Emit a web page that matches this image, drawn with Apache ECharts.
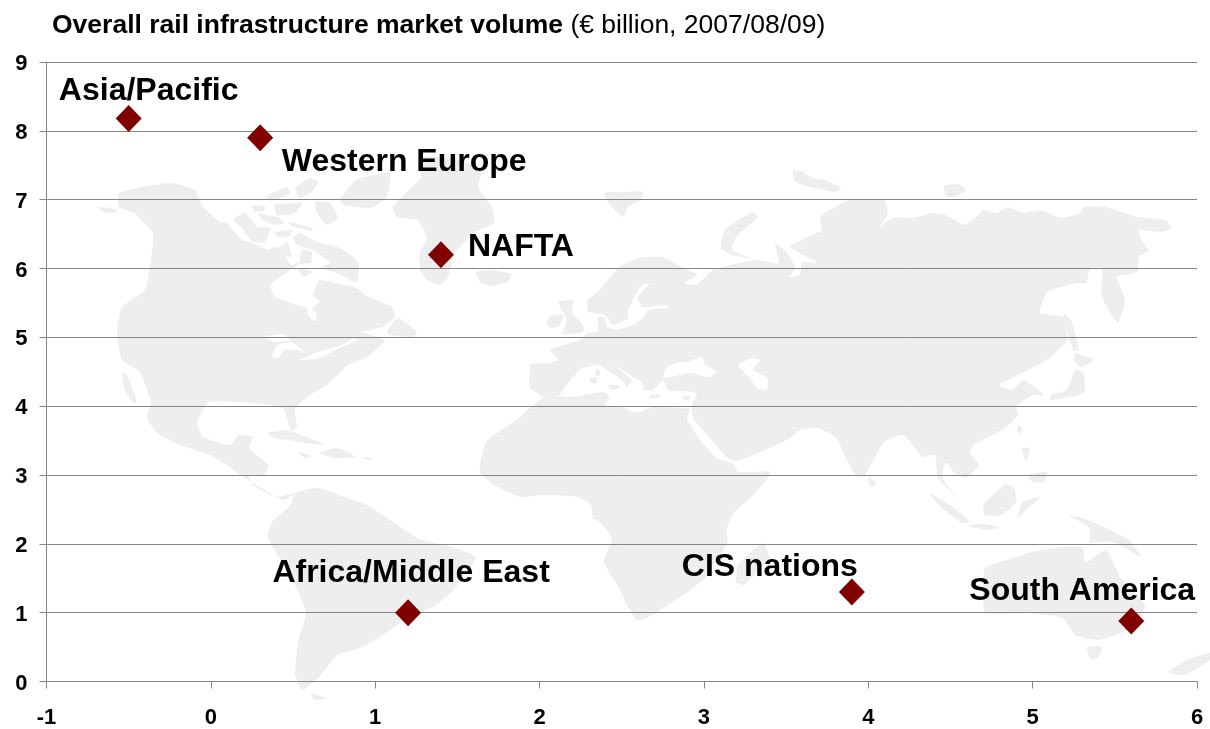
<!DOCTYPE html>
<html><head><meta charset="utf-8">
<style>html,body{margin:0;padding:0;background:#fff}#c{width:1210px;height:729px}</style>
<script src="https://cdn.jsdelivr.net/npm/echarts@6/dist/echarts.min.js"></script>
</head><body><div id="c"></div>
<script>
const regions = ['Asia/Pacific','Western Europe','NAFTA','Africa/Middle East','CIS nations','South America'];
const xValues = [-0.5,0.3,1.4,1.2,3.9,5.6];
const yValues = [8.18,7.9,6.2,1.0,1.3,0.88];
const labelOffsets = [[20,-27],[144,24],[80,-8],[3,-39],[-82,-25],[-49,-30]];
const titleBold = 'Overall rail infrastructure market volume';
const titleRest = ' (€ billion, 2007/08/09)';

// Decorative background world map (pixel outlines of the backdrop picture)
const land = [
 // North America
 [119,193,153,185,172,183,195,190,203,207,220,222,227,223,242,240,253,243,268,250,278,247,292,265,310,257,312,262,298,265,287,272,270,285,275,297,297,305,307,308,308,315,315,322,317,315,312,308,320,302,313,295,320,280,343,285,357,288,365,295,392,307,395,317,383,327,370,330,360,332,385,340,367,357,348,365,327,385,310,395,295,408,297,428,291,430,283,408,253,403,209,402,197,422,203,437,230,445,239,435,253,437,249,448,268,465,264,475,249,475,253,485,276,497,295,493,283,500,245,478,230,467,210,455,180,445,157,433,147,418,151,402,140,372,122,360,117,333,122,307,145,290,151,260,153,233,134,213,119,207],
 [98,207,112,208,118,212,105,213],
 [122,372,127,375,137,402,133,403,125,390],
 [387,332,398,318,417,332,413,337,390,335],
 // Arctic Canada
 [233,220,245,213,257,227,270,228,265,242,253,242,242,228],
 [252,206,265,206,265,210,255,212],
 [258,214,277,217,285,223,275,225,263,220],
 [275,205,302,203,295,213,277,215],
 [288,222,313,228,312,231,292,226],
 [275,232,293,230,288,237,277,237],
 [270,248,280,247,287,242,292,257,277,253],
 [293,238,300,233,317,242,340,248,358,262,357,282,337,273,320,268,330,263,313,250,297,245],
 [302,250,312,252,310,263,300,263],
 [298,268,313,272,303,277],
 [315,202,330,203,338,218,327,225,317,213],
 [340,200,356,180,390,173,387,197,371,208,344,205],
 [264,197,287,187,290,193,275,200],
 [295,188,310,178,318,182,312,192,300,198],
 // Greenland
 [393,207,406,193,421,177,421,157,459,160,482,170,478,187,492,207,494,223,474,233,455,253,448,277,440,285,427,280,420,270,420,253,427,237,417,220,397,217],
 // Iceland, British Isles
 [476,272,490,270,511,274,508,282,490,286,480,282],
 [546,323,552,315,563,315,560,325,552,328],
 [558,302,573,300,572,313,583,325,583,332,562,334,567,320,562,310],
 // Eurasia
 [530,364,550,363,558,360,550,350,580,340,587,333,598,332,598,318,605,317,607,327,617,330,633,325,643,318,648,310,670,308,667,305,642,307,638,297,650,283,640,287,628,310,628,318,613,325,605,315,588,312,588,300,600,290,619,267,639,258,662,257,682,267,697,275,684,283,697,285,713,270,756,260,779,263,775,243,787,253,795,267,790,277,800,275,802,262,818,263,790,247,806,238,822,230,820,217,830,210,849,200,884,200,888,213,880,227,892,218,915,218,931,213,946,215,964,225,977,217,983,210,997,213,1008,207,1024,213,1040,210,1061,218,1080,213,1084,207,1106,207,1137,217,1164,220,1172,228,1160,232,1139,230,1141,240,1149,250,1139,257,1137,272,1117,277,1125,300,1118,323,1102,297,1102,268,1090,270,1086,283,1077,283,1047,292,1040,313,1063,317,1067,340,1047,360,1028,370,1008,380,999,385,1012,390,1024,380,1044,395,1032,395,1016,407,1018,415,1005,428,974,445,970,453,979,465,966,478,954,472,946,462,942,478,958,498,938,478,935,455,923,457,903,435,884,442,865,475,857,477,843,452,837,438,818,428,800,430,787,440,738,461,728,458,693,418,692,405,697,393,668,390,663,380,653,390,648,390,643,390,642,382,633,377,612,363,632,380,630,383,627,387,622,380,607,370,600,365,582,368,572,378,565,387,557,398,545,397,530,388,530,367],
 // Arctic islands
 [604,193,625,192,643,192,640,200,628,207,623,217,610,205],
 [725,230,752,212,758,217,736,237,732,250,750,258,732,255,721,248],
 [793,170,803,172,812,178,825,180,841,188,835,192,815,188,795,182],
 [944,186,958,184,966,190,955,197,946,196],
 // Mediterranean islands
 [595,370,600,370,599,376,595,375],[590,378,597,378,596,383,591,383],[609,385,620,385,618,389,610,389],[650,395,660,395,659,398,651,398],[683,396,690,396,689,400,684,400],
 // Africa
 [486,442,520,417,543,398,573,397,603,392,610,397,605,405,622,407,637,413,653,407,690,409,687,418,700,440,717,458,734,464,738,472,771,472,756,492,732,515,726,532,728,542,705,578,690,590,660,610,647,618,637,620,627,605,619,588,604,562,612,538,600,522,593,518,591,505,578,497,543,495,520,497,494,485,480,473,480,465],
 [763,543,769,558,744,585,736,582,738,565],
 // South America
 [295,493,318,488,344,497,367,505,402,528,421,540,452,547,476,557,467,572,452,592,436,605,402,622,375,640,360,648,337,655,321,675,306,688,302,690,295,675,298,642,306,612,290,575,268,538,272,522,291,505],
 [310,693,327,698,315,700],
 // Caribbean
 [268,433,287,430,325,445,306,443,275,438],
 [320,453,337,448,356,457,333,458],
 [298,452,312,456,305,458],
 [360,457,372,458,370,460],
 // Australia & islands
 [985,568,1016,557,1032,552,1063,547,1082,547,1086,562,1106,550,1121,578,1145,605,1133,628,1098,640,1075,635,1063,618,1028,613,985,613,983,592],
 [1087,647,1102,647,1098,658,1090,658],
 [1168,672,1191,658,1210,653,1210,660,1184,675],
 [1069,515,1082,518,1106,528,1129,540,1141,557,1113,542,1090,542,1090,528],
 [929,493,950,505,970,522,962,523,942,508],
 [968,525,985,524,1001,528,985,530],
 [983,505,1005,485,1014,488,1016,502,1001,515,985,515],
 [1018,518,1022,502,1040,497,1028,508],
 [1022,448,1030,448,1026,462],
 [1028,475,1047,472,1044,482,1032,482],
 [868,478,874,480,876,485,870,486],
 [1018,425,1022,428,1021,434,1017,430],
 // Japan, Sakhalin
 [1075,353,1094,360,1082,367,1075,362],
 [1075,370,1084,373,1084,393,1051,400,1050,395,1067,390],
 [1063,313,1071,320,1079,350,1073,350]
];
const water = [
 [667,367,680,362,687,362,702,357,705,365,717,372,708,377,690,373,670,377,663,378],
 [738,365,753,358,760,360,753,370,767,378,767,390,757,388,750,378],
 [265,337,283,334,290,340,275,342],
 [272,357,277,345,292,342,305,352,297,350,285,350,278,358],
 [300,360,318,352,342,345,355,338,358,340,335,350,320,358]
];
function pts(a){const r=[];for(let i=0;i<a.length;i+=2)r.push([a[i],a[i+1]]);return r;}
const tile=document.createElement('canvas');tile.width=4;tile.height=4;
const tc=tile.getContext('2d');tc.fillStyle='#efefef';tc.fillRect(0,0,4,4);tc.fillStyle='#eaeaea';tc.fillRect(1,1,2,2);
const landFill={image:tile,repeat:'repeat'};
const graphicEls = land.map(a=>({type:'polygon',silent:true,z:-10,shape:{points:pts(a),smooth:0.15},style:{fill:landFill}}))
 .concat(water.map(a=>({type:'polygon',silent:true,z:-9,shape:{points:pts(a),smooth:0.15},style:{fill:'#ffffff'}})));

const font='"Liberation Sans", Arial, sans-serif';
const chart=echarts.init(document.getElementById('c'),null,{renderer:'canvas'});
chart.setOption({
 animation:false,
 backgroundColor:'#fff',
 graphic:{elements:graphicEls},
 title:{left:47,top:7,text:'{b|'+titleBold+'}{n|'+titleRest+'}',
  textStyle:{fontWeight:'normal',rich:{b:{fontFamily:font,fontWeight:'bold',fontSize:26.5,color:'#000'},n:{fontFamily:font,fontWeight:'normal',fontSize:26.5,color:'#000'}}}},
 grid:{left:46.5,right:13,top:62,bottom:47.5},
 xAxis:{type:'value',min:-1,max:6,interval:1,
  axisLine:{onZero:false,lineStyle:{color:'#868686',width:1}},
  axisTick:{length:7,lineStyle:{color:'#868686'}},
  axisLabel:{margin:25,color:'#000',fontFamily:font,fontWeight:'bold',fontSize:22,showMinLabel:true,showMaxLabel:true},
  splitLine:{show:false}},
 yAxis:{type:'value',min:0,max:9,interval:1,
  axisLine:{show:true,onZero:false,lineStyle:{color:'#868686',width:1}},
  axisTick:{show:true,length:7,lineStyle:{color:'#868686'}},
  axisLabel:{margin:19,formatter:'{a|{value}}',
   rich:{a:{color:'#000',fontFamily:font,fontWeight:'bold',fontSize:22,padding:[4,0,0,0]}}},
  splitLine:{show:true,lineStyle:{color:'#868686',width:1}}},
 series:[{type:'scatter',symbol:'diamond',symbolSize:[26,27],
  itemStyle:{color:'#800000',opacity:1},
  data:regions.map((r,i)=>({name:r,value:[xValues[i],yValues[i]],
   label:{show:true,position:'inside',offset:labelOffsets[i],formatter:r,color:'#000',fontFamily:font,fontWeight:'bold',fontSize:32}}))}]
});
</script></body></html>
